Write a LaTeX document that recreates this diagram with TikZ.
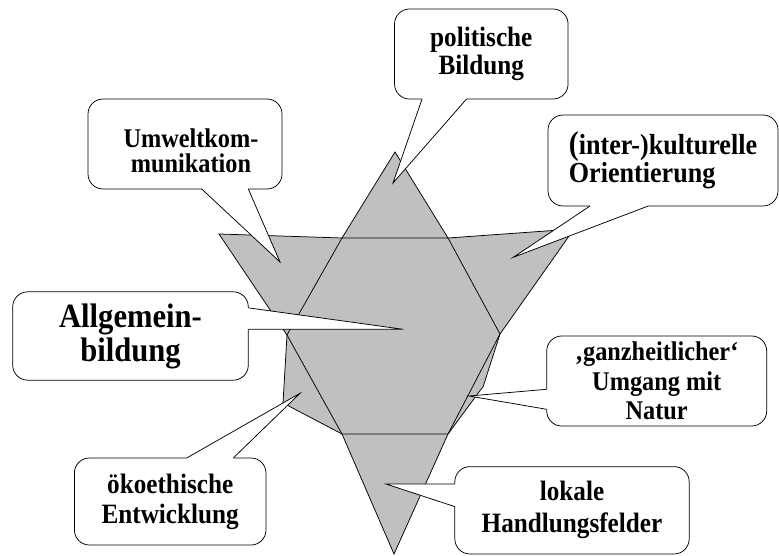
\documentclass[tikz,border=0pt]{standalone}
\usepackage{fontspec}
\setmainfont{Liberation Serif}[FakeStretch=0.9]
\usetikzlibrary{calc}

\definecolor{starfill}{HTML}{C0C0C0}

\tikzset{
	bubble/.style={draw, fill=white, rounded corners=15pt, line width=0.75pt,
		outer sep=0pt, inner sep=0pt, align=center,
		font=\bfseries\fontsize{27}{29}\selectfont},
}

\begin{document}
\begin{tikzpicture}[x=1pt,y=-1pt,line width=0.75pt]
	\useasboundingbox (0,0) rectangle (779,556);

	% corners of the star
	\coordinate (t)   at (395,152);
	\coordinate (tr)  at (448,238);
	\coordinate (rp)  at (574,229);
	\coordinate (r)   at (500,334);
	\coordinate (rb1) at (483,387);
	\coordinate (rb2) at (479,392);
	\coordinate (br)  at (448,434);
	\coordinate (b)   at (394,554);
	\coordinate (bl)  at (342,434);
	\coordinate (lb)  at (283,403);
	\coordinate (l)   at (287,335);
	\coordinate (lp)  at (219,234);
	\coordinate (tl)  at (342,238);

	% draw the star
	\filldraw[fill=starfill] (t) -- (tr) -- (rp) -- (r) -- (rb1) -- (rb2) -- (br) -- (b)
		-- (bl) -- (lb) -- (l) -- (lp) -- (tl) -- cycle;
	% the hexagon inside
	\draw (tl) -- (tr) -- (r) -- (br) -- (bl) -- (l) -- cycle;

	% the callout boxes
	\node[bubble, minimum width=173.5pt, minimum height=90pt,
		font=\bfseries\fontsize{28}{28}\selectfont] (pol) at (481.3,54) {politische\\Bildung};
	\node[bubble, minimum width=194pt, minimum height=90pt,
		font=\bfseries\fontsize{27}{24.5}\selectfont] (umw) at (185,144)
		{\raisebox{-7pt}[\height][\depth]{\hspace{12pt}\parbox[c]{150pt}{\centering Umweltkom-\\munikation}}};
	\node[bubble, minimum width=230pt, minimum height=91pt, align=left,
		font=\bfseries\fontsize{29}{25}\selectfont] (ori) at (663,160.5)
		{{\fontsize{33}{25}\selectfont(}inter-)kulturelle\\Orientierung};
	\node[bubble, minimum width=235.6pt, minimum height=88.3pt,
		font=\bfseries\fontsize{34}{34}\selectfont] (all) at (130.5,336) {Allgemein-\\bildung};
	\node[bubble, minimum width=220pt, minimum height=90pt,
		font=\bfseries\fontsize{27}{29.5}\selectfont] (nat) at (656.7,381)
		{‚ganzheitlicher‘\\Umgang mit\\Natur};
	\node[bubble, minimum width=234.3pt, minimum height=87.3pt,
		font=\bfseries\fontsize{28}{32}\selectfont] (lok) at (572,510.3) {lokale\\Handlungsfelder};
	\node[bubble, minimum width=191.6pt, minimum height=87pt,
		font=\bfseries\fontsize{28}{30}\selectfont] (oko) at (170.2,501.5) {ökoethische\\Entwicklung};

	% where the pointers leave the boxes
	\coordinate (pol-a) at ([xshift=27.5pt]pol.south west);
	\coordinate (pol-b) at ([xshift=72pt]pol.south west);
	\coordinate (umw-a) at ([xshift=113.7pt]umw.south west);
	\coordinate (umw-b) at ([xshift=160.3pt]umw.south west);
	\coordinate (ori-a) at ([xshift=42pt]ori.south west);
	\coordinate (ori-b) at ([xshift=100.3pt]ori.south west);
	\coordinate (all-a) at ([yshift=-16pt]all.north east);
	\coordinate (all-b) at ([yshift=-37.3pt]all.north east);
	\coordinate (nat-a) at ([yshift=-53.3pt]nat.north west);
	\coordinate (nat-b) at ([yshift=-73.3pt]nat.north west);
	\coordinate (lok-a) at ([yshift=-17.3pt]lok.north west);
	\coordinate (lok-b) at ([yshift=-40pt]lok.north west);
	\coordinate (oko-a) at ([xshift=112.3pt]oko.north west);
	\coordinate (oko-b) at ([xshift=158.9pt]oko.north west);

	% tips of the pointers
	\coordinate (pol-t) at (393,183);
	\coordinate (umw-t) at (280,262);
	\coordinate (ori-t) at (513.3,257.3);
	\coordinate (all-t) at (403.3,329.3);
	\coordinate (nat-t) at (469,396);
	\coordinate (lok-t) at (386,484);
	\coordinate (oko-t) at (300,393.3);

	\foreach \n/\dx/\dy in {pol/0/-1.5, umw/0/-1.5, ori/0/-1.5, all/-1.5/0,
			nat/1.5/0, lok/1.5/0, oko/0/1.5} {
		% white wedge over the box edge
		\fill[white] ($(\n-a)+(\dx,\dy)$) -- (\n-a) -- (\n-t) -- (\n-b) -- ($(\n-b)+(\dx,\dy)$) -- cycle;
		% its two sides
		\draw (\n-a) -- (\n-t) -- (\n-b);
	}
\end{tikzpicture}
\end{document}
